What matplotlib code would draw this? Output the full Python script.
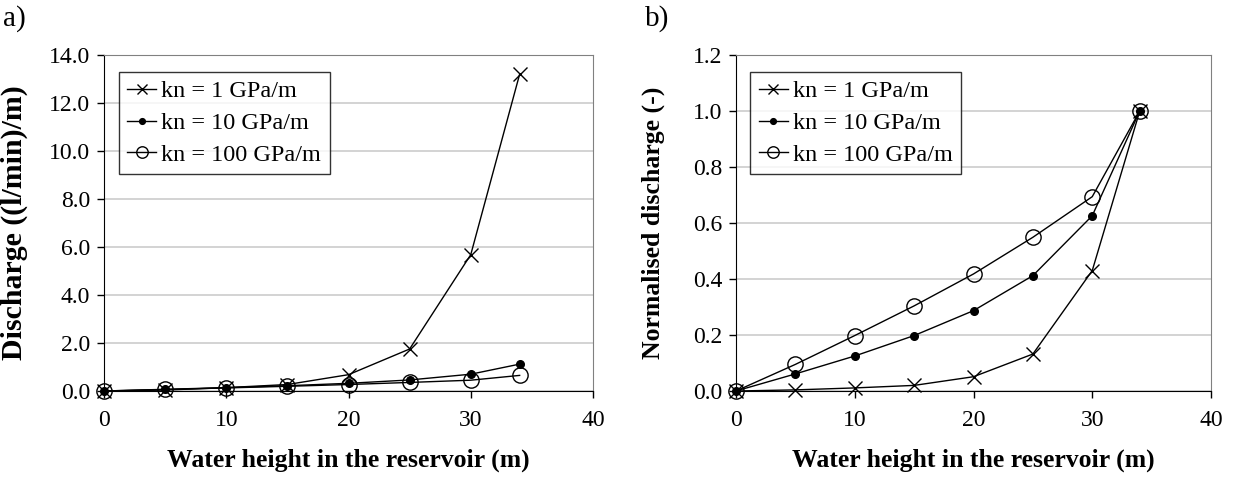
import matplotlib

matplotlib.use("Agg")
import matplotlib.pyplot as plt

plt.rcParams["font.family"] = ["Liberation Serif", "DejaVu Serif"]

# water height in the reservoir (m)
height = [0, 5, 10, 15, 20, 25, 30, 34]

# a) discharge ((l/min)/m)
q_kn1 = [0, 0.04, 0.14, 0.27, 0.68, 1.75, 5.68, 13.2]
q_kn10 = [0, 0.07, 0.14, 0.22, 0.32, 0.46, 0.70, 1.12]
q_kn100 = [0, 0.063, 0.128, 0.196, 0.27, 0.357, 0.45, 0.65]

# b) normalised discharge (-)
n_kn1 = [0, 0.004, 0.011, 0.02, 0.051, 0.132, 0.43, 1.0]
n_kn10 = [0, 0.061, 0.125, 0.198, 0.287, 0.412, 0.626, 1.0]
n_kn100 = [0, 0.095, 0.198, 0.304, 0.418, 0.549, 0.694, 1.0]

labels = ["kn = 1 GPa/m", "kn = 10 GPa/m", "kn = 100 GPa/m"]

W, H = 1248, 484
fig = plt.figure(figsize=(W / 100, H / 100), dpi=100)


def box(l, r, t, b):
    return [l / W, 1 - b / H, (r - l) / W, (b - t) / H]


def panel(ax, series, ymax, ystep, ylabel, ylab_x, ylab_size):
    styles = [
        dict(marker="x", ms=10, mew=1.0, mfc="none"),
        dict(marker="o", ms=5.5, mfc="black"),
        dict(marker="o", ms=11, mew=1.0, mfc="none"),
    ]
    for ys, st, lab in zip(series, styles, labels):
        ax.plot(height, ys, color="black", lw=1.0, mec="black",
                label=lab, clip_on=False, zorder=3, **st)
    ax.set_xlim(0, 40)
    ax.set_ylim(0, ymax)
    ax.set_xticks(range(0, 41, 10))
    yt = [i * ystep for i in range(int(round(ymax / ystep)) + 1)]
    ax.set_yticks(yt)
    ax.set_yticklabels([f"{v:.1f}" for v in yt])
    ax.tick_params(direction="out", length=5, width=1, labelsize=17, pad=5)
    ax.tick_params(axis="x", pad=9)
    ax.yaxis.grid(True, color="#cccccc", lw=1.2)
    ax.set_axisbelow(True)
    for s in ("top", "right"):
        ax.spines[s].set_color("#808080")
    ax.set_xlabel("Water height in the reservoir (m)", fontsize=18.5,
                  fontweight="bold", labelpad=12)
    ax.set_ylabel(ylabel, fontsize=ylab_size, fontweight="bold")
    ax.yaxis.set_label_coords(ylab_x, 0.5)
    leg = ax.legend(loc="upper left", bbox_to_anchor=(0.03, 0.95),
                    fontsize=17.5, frameon=True, fancybox=False,
                    handlelength=1.2, handletextpad=0.2, markerscale=0.75,
                    borderpad=0.35, labelspacing=0.4, borderaxespad=0)
    leg.get_frame().set_edgecolor("black")
    leg.get_frame().set_linewidth(1.0)


ax_a = fig.add_axes(box(104, 593, 55, 391))
panel(ax_a, [q_kn1, q_kn10, q_kn100], 14.0, 2.0,
      "Discharge ((l/min)/m)", -76 / 489, 21.5)

ax_b = fig.add_axes(box(736, 1211, 55, 391))
panel(ax_b, [n_kn1, n_kn10, n_kn100], 1.2, 0.2,
      "Normalised discharge (-)", -71 / 475, 18.5)

fig.text(3 / W, 1 - 26 / H, "a)", fontsize=21)
fig.text(645 / W, 1 - 26 / H, "b)", fontsize=21)

fig.savefig("out.png", dpi=100)
